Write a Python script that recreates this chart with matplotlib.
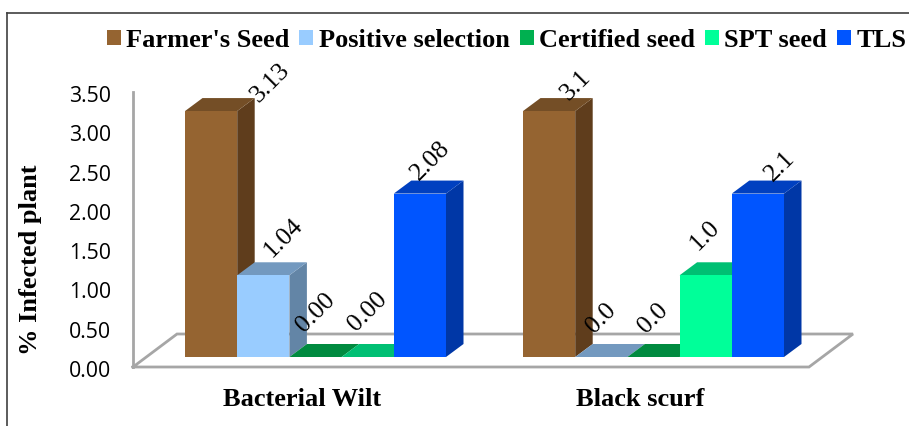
import matplotlib
matplotlib.use("Agg")
import matplotlib.pyplot as plt
from matplotlib.patches import Patch
from matplotlib.lines import Line2D
from matplotlib.transforms import ScaledTranslation

categories = ["Bacterial Wilt", "Black scurf"]
series_names = ["Farmer's Seed", "Positive selection", "Certified seed", "SPT seed", "TLS"]
farmers_seed = [3.13, 3.13]
positive_selection = [1.04, 0.0]
certified_seed = [0.0, 0.0]
spt_seed = [0.0, 1.04]
tls = [2.08, 2.08]
y_ticks = [0.0, 0.5, 1.0, 1.5, 2.0, 2.5, 3.0, 3.5]

series_values = [farmers_seed, positive_selection, certified_seed, spt_seed, tls]
label_decimals = [2, 1]

# front, top, side
colors = [
    ("#956431", "#744E26", "#5F3D1C"),
    ("#99CCFF", "#7399BF", "#6385A6"),
    ("#00B050", "#008A3F", "#007034"),
    ("#00FF99", "#00BF73", "#00A060"),
    ("#0055FF", "#0040C0", "#0037A6"),
]
# label shift from the top of the front face, in pixels
label_shift = [
    [(59, 28), (20, 37), (0, 44), (0, 45), (11, 33)],
    [(27, 26), (0, 39), (0, 39), (-1, 40), (22, 27)],
]

W, H = 909, 426
LEFT, RIGHT, BOTTOM, TOP = 133, 809, 367, 92

fig = plt.figure(figsize=(W / 100, H / 100), dpi=100)
ax = fig.add_axes([LEFT / W, 1 - BOTTOM / H, (RIGHT - LEFT) / W, (BOTTOM - TOP) / H])
ax.set_xlim(0, 2)
ax.set_ylim(0, 3.5)

# pixels to data units, for the fake 3d depth
px_x = 2 / (RIGHT - LEFT)
px_y = 3.5 / (BOTTOM - TOP)
bar_w = 52.2 * px_x
floor_dx, floor_dy = 44 * px_x, 33 * px_y
start_dx, start_dy = 13.5 * px_x, 10 * px_y
bar_dx, bar_dy = 17.5 * px_x, 13 * px_y

gray = "#A6A6A6"
ax.plot([0, floor_dx, 2 + floor_dx, 2, 0], [0, floor_dy, floor_dy, 0, 0],
        color=gray, lw=2, clip_on=False, zorder=1, solid_joinstyle="miter")

z = 2
for g in range(len(categories)):
    for s in range(len(series_names)):
        v = series_values[s][g]
        x0 = g + 0.5 + start_dx + (s - 2.5) * bar_w
        x1 = x0 + bar_w
        y0 = start_dy
        y1 = start_dy + v
        front, top, side = colors[s]
        # side, top and front faces
        ax.fill([x1, x1 + bar_dx, x1 + bar_dx, x1], [y0, y0 + bar_dy, y1 + bar_dy, y1],
                color=side, lw=0, clip_on=False, zorder=z)
        ax.fill([x0, x1, x1 + bar_dx, x0 + bar_dx], [y1, y1, y1 + bar_dy, y1 + bar_dy],
                color=top, lw=0, clip_on=False, zorder=z)
        ax.fill([x0, x1, x1, x0], [y0, y0, y1, y1],
                color=front, lw=0, clip_on=False, zorder=z)
        z += 1
        dx, dy = label_shift[g][s]
        ax.annotate(f"{v:.{label_decimals[g]}f}", ((x0 + x1) / 2, y1), xytext=(dx, dy),
                    textcoords="offset pixels", rotation=45, ha="center", va="center",
                    rotation_mode="anchor", family="Liberation Serif", fontsize=18.5,
                    color="black", zorder=50, annotation_clip=False)

for sp in ["top", "right"]:
    ax.spines[sp].set_visible(False)
ax.spines["left"].set_color(gray)
ax.spines["left"].set_linewidth(2)
ax.spines["bottom"].set_visible(False)
ax.patch.set_visible(False)

ax.set_yticks(y_ticks)
ax.set_yticklabels([f"{t:.2f}" for t in y_ticks], family="Open Sans", fontsize=15.3)
ax.tick_params(axis="y", length=0, pad=16)
for lab in ax.get_yticklabels():
    lab.set_transform(lab.get_transform() + ScaledTranslation(0, -2 / 100, fig.dpi_scale_trans))
ax.set_xticks([g + 0.5 for g in range(len(categories))])
ax.set_xticklabels(categories, family="Liberation Serif", fontweight="bold", fontsize=19)
ax.tick_params(axis="x", length=0, pad=15)

ax.set_ylabel("% Infected plant", family="Liberation Serif", fontweight="bold", fontsize=19, va="center")
ax.yaxis.set_label_coords((30 - LEFT) / (RIGHT - LEFT), (BOTTOM - 260) / (BOTTOM - TOP))

handles = [Patch(color=c[0], lw=0) for c in colors]
fig.legend(handles, series_names, ncol=5, loc="center", bbox_to_anchor=(506.5 / W, 1 - 40.5 / H),
           frameon=False, handlelength=0.53, handleheight=0.53, handletextpad=0.2,
           columnspacing=0.38, borderpad=0, borderaxespad=0,
           prop={"family": "Liberation Serif", "weight": "bold", "size": 19})

# outer frame, only top and left show in the picture
border = "#404040"
fig.add_artist(Line2D([7 / W, 1], [1 - 13 / H, 1 - 13 / H], color=border, lw=1.2))
fig.add_artist(Line2D([7 / W, 7 / W], [0, 1 - 13 / H], color=border, lw=1.2))

plt.savefig("out.png", dpi=100)
